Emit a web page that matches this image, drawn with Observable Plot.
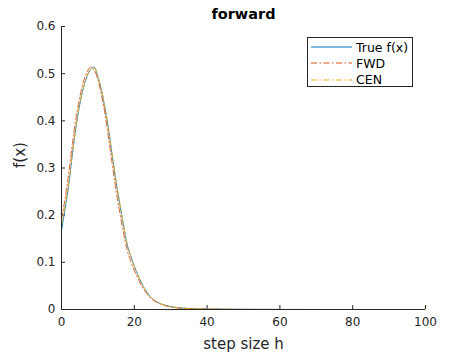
<!DOCTYPE html>
<html><head><meta charset="utf-8">
<script src="https://cdn.jsdelivr.net/npm/d3@7"></script>
<script src="https://cdn.jsdelivr.net/npm/@observablehq/plot@0.6"></script>
<style>
body{margin:0;background:#fff;}
#wrap{position:relative;width:469px;height:352px;font-family:"DejaVu Sans",sans-serif;}
#legend{position:absolute;left:307px;top:37px;width:104px;height:48px;border:1px solid #262626;background:#fff;font-size:12.5px;color:#000;}
#legend .row{position:absolute;left:3px;height:16px;display:flex;align-items:center;}
#legend .row span{margin-left:4px;}
</style>
</head><body>
<div id="wrap"></div>
<script>
const hTrue = [0,1,2,3,4,5,6,7,8,9,10,11,12,13,14,15,16,17,18,19,20,21,22,23,24,25,26,27,28,29,30,32,35,40,50,60,73];
const fTrue = [0.167,0.215,0.265,0.330,0.388,0.434,0.470,0.494,0.509,0.514,0.493,0.464,0.425,0.378,0.323,0.270,0.224,0.180,0.139,0.114,0.092,0.073,0.056,0.042,0.031,0.023,0.017,0.013,0.010,0.008,0.006,0.004,0.002,0.001,0.0003,0.0001,0];
const hApprox = [0,1,2,3,4,5,6,7,8,9,10,11,12,13,14,15,16,17,18,19,20,21,22,23,24,25,26,27,28,29,30,32,35,40,50,60,73,80,90,100];
const fFwd = [0.192,0.236,0.290,0.352,0.407,0.449,0.482,0.503,0.514,0.508,0.487,0.454,0.412,0.360,0.305,0.252,0.206,0.164,0.127,0.103,0.083,0.066,0.050,0.038,0.028,0.021,0.016,0.012,0.009,0.007,0.005,0.003,0.002,0.001,0.0003,0.0001,0,0,0,0];
const fCen = [0.180,0.222,0.270,0.333,0.390,0.436,0.471,0.495,0.510,0.513,0.494,0.465,0.426,0.379,0.325,0.272,0.225,0.181,0.140,0.114,0.092,0.073,0.056,0.042,0.031,0.023,0.017,0.013,0.010,0.008,0.006,0.004,0.002,0.001,0.0003,0.0001,0,0,0,0];
const xTicks = [0,20,40,60,80,100];
const yTicks = [0,0.1,0.2,0.3,0.4,0.5,0.6];
const series = ["True f(x)","FWD","CEN"];
const colors = ["#0072BD","#D95319","#EDB120"];
const dashes = [null,"6,2.5,1.5,2.5","6,2.5,1.5,2.5"];

const trueData = hTrue.map((h,i)=>({h, f:fTrue[i]}));
const fwdData = hApprox.map((h,i)=>({h, f:fFwd[i]}));
const cenData = hApprox.map((h,i)=>({h, f:fCen[i]}));
const axisColor = "#262626";

const chart = Plot.plot({
  width: 469, height: 352,
  marginLeft: 61, marginRight: 44, marginTop: 26, marginBottom: 43,
  style: {fontFamily: "DejaVu Sans, sans-serif", fontSize: "12px", color: axisColor, background: "#fff"},
  x: {domain: [0,100]},
  y: {domain: [0,0.6]},
  marks: [
    Plot.axisX({ticks: xTicks, tickSize: -4, tickPadding: 12, label: null, stroke: axisColor, fill: axisColor, tickFormat: d3.format("~g")}),
    Plot.axisY({ticks: yTicks, tickSize: -4, tickPadding: 10, label: null, stroke: axisColor, fill: axisColor, tickFormat: d3.format("~g")}),
    Plot.line(trueData, {x:"h", y:"f", stroke: colors[0], strokeWidth: 0.9, curve: "monotone-x"}),
    Plot.line(fwdData, {x:"h", y:"f", stroke: colors[1], strokeWidth: 0.9, strokeDasharray: dashes[1], curve: "monotone-x"}),
    Plot.line(cenData, {x:"h", y:"f", stroke: colors[2], strokeWidth: 0.9, strokeDasharray: dashes[2], curve: "monotone-x"}),
    Plot.ruleX([0], {stroke: axisColor, strokeWidth: 1}),
    Plot.ruleY([0], {stroke: axisColor, strokeWidth: 1}),
    Plot.text(["forward"], {frameAnchor: "top", dy: -12, lineAnchor: "middle", fontWeight: "bold", fontSize: 14.5, fill: "#000"}),
    Plot.text(["step size h"], {frameAnchor: "bottom", dy: 35, lineAnchor: "middle", fontSize: 15, fill: axisColor}),
    Plot.text(["f(x)"], {frameAnchor: "left", dx: -41, lineAnchor: "middle", rotate: -90, fontSize: 15, fill: axisColor})
  ]
});
const wrap = document.getElementById("wrap");
wrap.appendChild(chart);

const legend = document.createElement("div");
legend.id = "legend";
series.forEach((name,i)=>{
  const row = document.createElement("div");
  row.className = "row";
  row.style.top = (1 + i*16.3) + "px";
  row.innerHTML = `<svg width="41" height="4"><line x1="0" x2="41" y1="2" y2="2" stroke="${colors[i]}" stroke-width="1" ${dashes[i] ? `stroke-dasharray="${dashes[i]}"` : ""}/></svg><span>${name}</span>`;
  legend.appendChild(row);
});
wrap.appendChild(legend);
</script>
</body></html>
